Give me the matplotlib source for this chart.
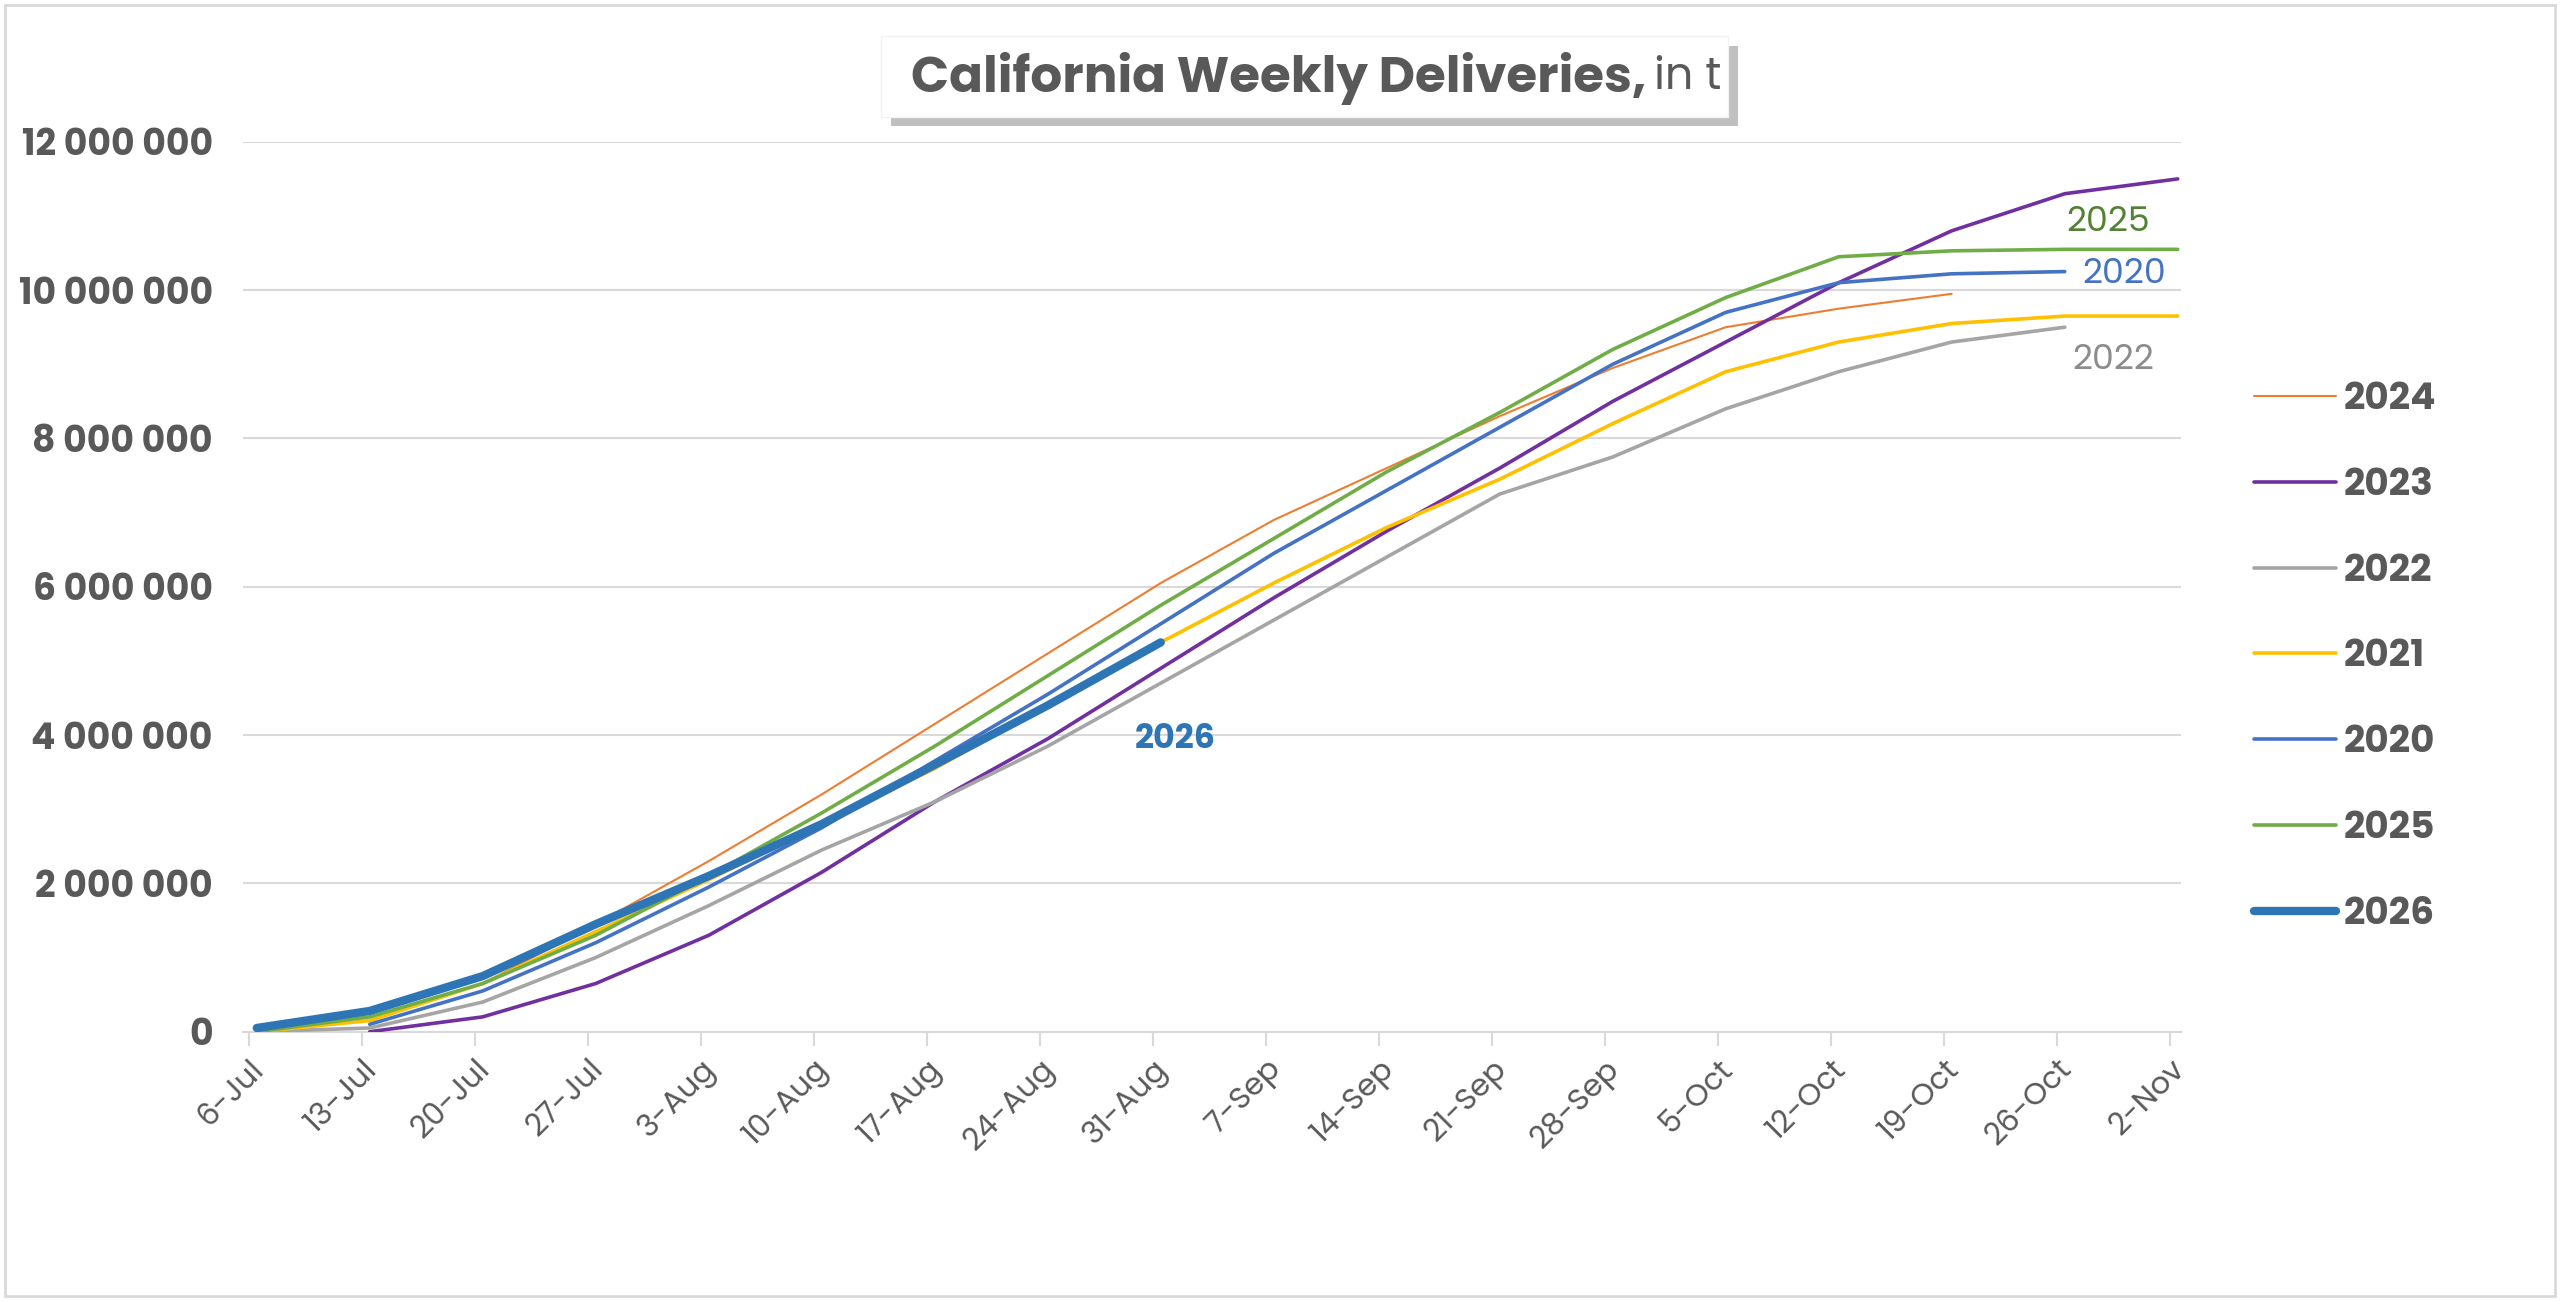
import matplotlib.pyplot as plt
from matplotlib.patches import Rectangle
import matplotlib.ticker as mticker

weeks = ['6-Jul', '13-Jul', '20-Jul', '27-Jul', '3-Aug', '10-Aug', '17-Aug', '24-Aug', '31-Aug',
         '7-Sep', '14-Sep', '21-Sep', '28-Sep', '5-Oct', '12-Oct', '19-Oct', '26-Oct', '2-Nov']

# values in millions of t, first week index each series starts at
s2024 = (0, [0.0, 0.15, 0.65, 1.45, 2.3, 3.2, 4.15, 5.1, 6.05, 6.9, 7.6, 8.3, 8.95, 9.5, 9.75, 9.95])
s2023 = (1, [0.0, 0.2, 0.65, 1.3, 2.15, 3.1, 3.95, 4.9, 5.85, 6.75, 7.6, 8.5, 9.3, 10.1, 10.8, 11.3, 11.5])
s2022 = (0, [0.0, 0.05, 0.4, 1.0, 1.7, 2.45, 3.1, 3.85, 4.7, 5.55, 6.4, 7.25, 7.75, 8.4, 8.9, 9.3, 9.5])
s2021 = (0, [0.0, 0.15, 0.65, 1.35, 2.05, 2.8, 3.55, 4.4, 5.25, 6.05, 6.8, 7.45, 8.2, 8.9, 9.3, 9.55, 9.65, 9.65])
s2020 = (1, [0.1, 0.55, 1.2, 1.95, 2.75, 3.65, 4.55, 5.5, 6.45, 7.3, 8.15, 9.0, 9.7, 10.1, 10.22, 10.25])
s2025 = (0, [0.0, 0.2, 0.65, 1.3, 2.1, 2.95, 3.85, 4.8, 5.75, 6.65, 7.55, 8.35, 9.2, 9.9, 10.45, 10.53, 10.55, 10.55])
s2026 = (0, [0.05, 0.28, 0.75, 1.45, 2.1, 2.8, 3.6, 4.4, 5.25])

series = [('2024', s2024, '#ED7D31', 1.5),
          ('2023', s2023, '#7030A0', 2.6),
          ('2022', s2022, '#A5A5A5', 2.6),
          ('2021', s2021, '#FFC000', 2.6),
          ('2020', s2020, '#4472C4', 2.6),
          ('2025', s2025, '#70AD47', 2.6),
          ('2026', s2026, '#2E75B6', 6)]

txt = '#595959'
plt.rcParams['font.family'] = ['Poppins', 'Inter', 'DejaVu Sans']

fig = plt.figure(figsize=(25.6, 13.01), dpi=100)
fig.patches.append(Rectangle((0.002, 0.004), 0.996, 0.992, transform=fig.transFigure,
                             fill=False, edgecolor='#D9D9D9', linewidth=2))
ax = fig.add_axes([0.095, 0.207, 0.757, 0.684])

for name, (start, vals), col, lw in series:
    xs = [start + i + 0.07 for i in range(len(vals))]
    ax.plot(xs, [v * 1e6 for v in vals], color=col, linewidth=lw, label=name,
            solid_capstyle='round', zorder=5 if name == '2026' else 3)

ax.set_ylim(0, 12e6)
ax.set_xlim(-0.05, 17.1)
ax.set_yticks(range(0, 12000001, 2000000))
ax.yaxis.set_major_formatter(mticker.FuncFormatter(lambda v, p: f'{int(v):,}'.replace(',', ' ')))
ax.set_xticks(range(len(weeks)))
ax.set_xticklabels(weeks, rotation=45, ha='right', rotation_mode='anchor')
ax.tick_params(axis='x', colors='#D9D9D9', labelcolor=txt, labelsize=22, length=10, width=1.5, pad=6)
ax.tick_params(axis='y', labelcolor=txt, labelsize=26, length=0, pad=22)
for lab in ax.get_yticklabels():
    lab.set_fontweight('bold')
ax.grid(axis='y', color='#D9D9D9', linewidth=1.5)
ax.set_axisbelow(True)
for sp in ['top', 'right', 'left']:
    ax.spines[sp].set_visible(False)
ax.spines['bottom'].set_color('#D9D9D9')
ax.spines['bottom'].set_linewidth(1.5)

ax.text(16.45, 10.9e6, '2025', color='#548235', fontsize=25, ha='center', va='center')
ax.text(16.6, 10.2e6, '2020', color='#4472C4', fontsize=25, ha='center', va='center')
ax.text(16.5, 9.05e6, '2022', color='#8C8C8C', fontsize=25, ha='center', va='center')
ax.text(8.2, 3.94e6, '2026', color='#2E75B6', fontsize=24, fontweight='bold', ha='center', va='center')

leg = ax.legend(loc='center left', bbox_to_anchor=(1.02, 0.42), frameon=False, fontsize=27,
                labelspacing=1.3, handlelength=2.2, handletextpad=0.2)
for t in leg.get_texts():
    t.set_color(txt)
    t.set_fontweight('bold')

# title box with shadow
fig.patches.append(Rectangle((0.348, 0.903), 0.331, 0.062, transform=fig.transFigure,
                             facecolor='#A6A6A6', edgecolor='none', alpha=0.7))
fig.patches.append(Rectangle((0.344, 0.910), 0.331, 0.062, transform=fig.transFigure,
                             facecolor='white', edgecolor='#F2F2F2'))
fig.text(0.643, 0.94, 'California Weekly Deliveries,', ha='right', va='center',
         fontsize=36, fontweight='bold', color=txt)
fig.text(0.646, 0.94, 'in t', ha='left', va='center', fontsize=32, color=txt)

fig.savefig('out.png', dpi=100)
